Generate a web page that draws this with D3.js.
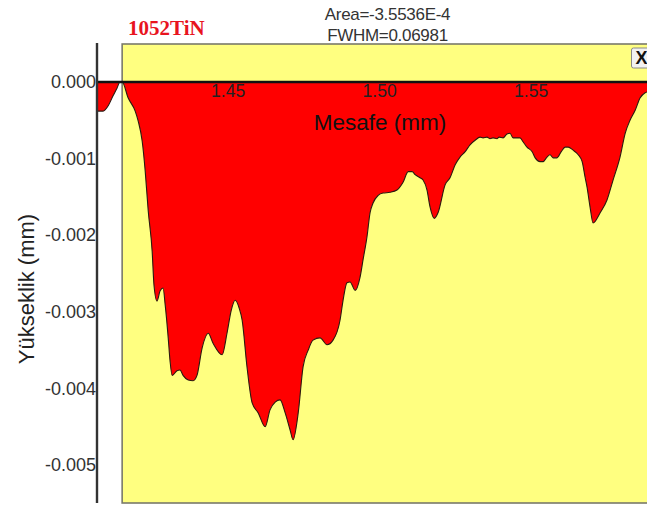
<!DOCTYPE html>
<html>
<head>
<meta charset="utf-8">
<script src="https://cdn.jsdelivr.net/npm/d3@7"></script>
<style>
  html, body { margin: 0; padding: 0; background: #fff; }
  svg { display: block; }
</style>
</head>
<body>
<svg id="chart" width="647" height="508"></svg>
<script>
// Surface profile of the 1052TiN sample: distance (mm) vs. height (mm)
const distance = [
  1.4069, 1.4089, 1.4106, 1.4122, 1.4135, 1.4145, 1.4152, 1.4172, 1.4195, 1.4205,
  1.4218, 1.4228, 1.4238, 1.4251, 1.4257, 1.4267, 1.4277, 1.4287, 1.4294, 1.4304,
  1.4310, 1.4317, 1.4333, 1.4343, 1.4353, 1.4370, 1.4386, 1.4399, 1.4416, 1.4436,
  1.4452, 1.4482, 1.4498, 1.4512, 1.4525, 1.4538, 1.4548, 1.4564, 1.4581, 1.4601,
  1.4624, 1.4640, 1.4657, 1.4673, 1.4690, 1.4706, 1.4716, 1.4733, 1.4749, 1.4766,
  1.4782, 1.4805, 1.4828, 1.4848, 1.4871, 1.4881, 1.4894, 1.4904, 1.4921, 1.4937,
  1.4947, 1.4960, 1.4970, 1.4980, 1.4997, 1.5013, 1.5036, 1.5059, 1.5079, 1.5096,
  1.5109, 1.5119, 1.5135, 1.5145, 1.5158, 1.5168, 1.5182, 1.5195, 1.5218, 1.5234,
  1.5251, 1.5267, 1.5284, 1.5300, 1.5317, 1.5333, 1.5343, 1.5356, 1.5366, 1.5376,
  1.5389, 1.5396, 1.5409, 1.5422, 1.5432, 1.5442, 1.5455, 1.5465, 1.5475, 1.5488,
  1.5505, 1.5515, 1.5531, 1.5541, 1.5554, 1.5564, 1.5574, 1.5587, 1.5601, 1.5614,
  1.5624, 1.5640, 1.5657, 1.5670, 1.5680, 1.5686, 1.5696, 1.5706, 1.5729, 1.5752,
  1.5772, 1.5795, 1.5812, 1.5828, 1.5845, 1.5861, 1.5878, 1.5884
];
const height = [
  -0.00038, -0.00038, -0.00031, -0.00018, -0.00008, 0.00000, 0.00000, -0.00021, -0.00038, -0.00051,
  -0.00077, -0.00116, -0.00168, -0.00221, -0.00265, -0.00286, -0.00273, -0.00269, -0.00291, -0.00334,
  -0.00364, -0.00383, -0.00377, -0.00376, -0.00383, -0.00389, -0.00390, -0.00383, -0.00347, -0.00328,
  -0.00341, -0.00356, -0.00328, -0.00298, -0.00285, -0.00295, -0.00311, -0.00372, -0.00419, -0.00432,
  -0.00450, -0.00428, -0.00418, -0.00415, -0.00432, -0.00454, -0.00467, -0.00432, -0.00372, -0.00350,
  -0.00337, -0.00334, -0.00343, -0.00337, -0.00311, -0.00285, -0.00262, -0.00261, -0.00272, -0.00255,
  -0.00232, -0.00202, -0.00171, -0.00158, -0.00148, -0.00145, -0.00144, -0.00141, -0.00131, -0.00117,
  -0.00117, -0.00121, -0.00125, -0.00128, -0.00141, -0.00163, -0.00178, -0.00170, -0.00134, -0.00125,
  -0.00108, -0.00098, -0.00091, -0.00082, -0.00076, -0.00072, -0.00073, -0.00072, -0.00074, -0.00073,
  -0.00074, -0.00072, -0.00073, -0.00068, -0.00067, -0.00073, -0.00073, -0.00073, -0.00078, -0.00085,
  -0.00091, -0.00099, -0.00104, -0.00104, -0.00098, -0.00095, -0.00099, -0.00099, -0.00091, -0.00085,
  -0.00085, -0.00089, -0.00095, -0.00104, -0.00125, -0.00137, -0.00163, -0.00184, -0.00171, -0.00154,
  -0.00128, -0.00098, -0.00067, -0.00050, -0.00037, -0.00021, -0.00014, -0.00013
];
const xTicks = [1.45, 1.50, 1.55];
const yTicks = [0, -0.001, -0.002, -0.003, -0.004, -0.005];
const sampleName = "1052TiN";
const statLines = ["Area=-3.5536E-4", "FWHM=0.06981"];
const xTitle = "Mesafe (mm)";
const yTitle = "Yükseklik (mm)";
const selectionStart = 1.4152;   // left edge of the highlighted evaluation window

const points = distance.map((d, i) => ({ d, h: height[i] }));

const svg = d3.select("#chart");
const W = 647, H = 508;
const plotTop = 44, plotBottom = 503, axisX = 97;

const x = d3.scaleLinear().domain([1.4069, 1.5884]).range([axisX, W]);
const y = d3.scaleLinear().domain([0, -0.005]).range([82, 465]);

// evaluation window (yellow panel)
const selX = x(selectionStart);
svg.append("rect")
  .attr("x", selX).attr("y", plotTop)
  .attr("width", W - selX + 5).attr("height", plotBottom - plotTop)
  .attr("fill", "#ffff80")
  .attr("stroke", "#7a7a6a").attr("stroke-width", 1.6);

// profile fill between zero line and surface
const curve = d3.curveMonotoneX;
const area = d3.area()
  .curve(curve)
  .x(p => x(p.d))
  .y0(y(0))
  .y1(p => y(p.h));
svg.append("path")
  .datum(points)
  .attr("d", area)
  .attr("fill", "#ff0000");

const line = d3.line().curve(curve).x(p => x(p.d)).y(p => y(p.h));
svg.append("path")
  .datum(points)
  .attr("d", line)
  .attr("fill", "none")
  .attr("stroke", "#2a1a10")
  .attr("stroke-width", 1.1)
  .attr("stroke-linejoin", "round");

// zero reference line
svg.append("line")
  .attr("x1", axisX).attr("x2", W)
  .attr("y1", y(0)).attr("y2", y(0))
  .attr("stroke", "#111").attr("stroke-width", 2.4);

// vertical axis line
svg.append("line")
  .attr("x1", axisX).attr("x2", axisX)
  .attr("y1", plotTop - 1).attr("y2", plotBottom)
  .attr("stroke", "#333").attr("stroke-width", 2.4);

// y axis labels
const yAxis = d3.axisLeft(y)
  .tickValues(yTicks)
  .tickSize(0)
  .tickPadding(1)
  .tickFormat(v => v.toFixed(3));
const gy = svg.append("g")
  .attr("transform", `translate(${axisX},0)`)
  .call(yAxis);
gy.select(".domain").remove();
gy.selectAll("text")
  .attr("font-family", "Liberation Sans, Arial, sans-serif")
  .attr("font-size", 18)
  .attr("fill", "#333");

// x axis labels, placed just under the zero line
const xAxis = d3.axisBottom(x)
  .tickValues(xTicks)
  .tickSize(0)
  .tickPadding(3)
  .tickFormat(v => v.toFixed(2));
const gx = svg.append("g")
  .attr("transform", `translate(0,${y(0)})`)
  .call(xAxis);
gx.select(".domain").remove();
gx.selectAll("text")
  .attr("font-family", "Liberation Sans, Arial, sans-serif")
  .attr("font-size", 17.5)
  .attr("fill", "#222");

// axis titles
svg.append("text")
  .attr("x", 380).attr("y", 130)
  .attr("text-anchor", "middle")
  .attr("font-family", "Liberation Sans, Arial, sans-serif")
  .attr("font-size", 22.5)
  .attr("fill", "#111")
  .text(xTitle);

svg.append("text")
  .attr("transform", "translate(34,289) rotate(-90)")
  .attr("text-anchor", "middle")
  .attr("font-family", "Liberation Sans, Arial, sans-serif")
  .attr("font-size", 22)
  .attr("fill", "#222")
  .text(yTitle);

// sample name
svg.append("text")
  .attr("x", 128).attr("y", 35)
  .attr("font-family", "Liberation Serif, Times New Roman, serif")
  .attr("font-weight", "bold")
  .attr("font-size", 21)
  .attr("fill", "#e8141e")
  .text(sampleName);

// area / FWHM readout
svg.append("g")
  .selectAll("text")
  .data(statLines)
  .join("text")
  .attr("x", 387.5)
  .attr("y", (d, i) => 20 + i * 21)
  .attr("text-anchor", "middle")
  .attr("font-family", "Liberation Sans, Arial, sans-serif")
  .attr("font-size", 17)
  .attr("letter-spacing", -0.3)
  .attr("fill", "#333")
  .text(d => d);

// close button
const btn = svg.append("g").attr("transform", "translate(631.5,48)");
btn.append("rect")
  .attr("width", 22).attr("height", 20).attr("rx", 2)
  .attr("fill", "#f2f2f2").attr("stroke", "#8a8a8a").attr("stroke-width", 1);
btn.append("text")
  .attr("x", 10).attr("y", 16)
  .attr("text-anchor", "middle")
  .attr("font-family", "Liberation Sans, Arial, sans-serif")
  .attr("font-weight", "bold")
  .attr("font-size", 18)
  .attr("fill", "#111")
  .text("X");
</script>
</body>
</html>
